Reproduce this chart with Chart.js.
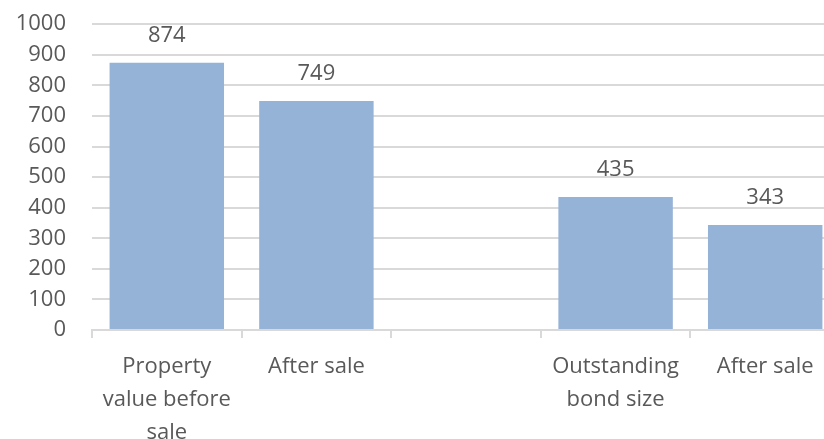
<!DOCTYPE html>
<html>
<head>
<meta charset="utf-8">
<script src="https://cdn.jsdelivr.net/npm/chart.js@4"></script>
<style>
  html, body { margin: 0; padding: 0; overflow: hidden; background: #fff; }
  #wrap { width: 840px; height: 454px; margin-top: -15px; }
</style>
</head>
<body>
<div id="wrap"><canvas id="chart"></canvas></div>
<script>
const categories = [
  ["Property", "value before", "sale"],
  ["After sale"],
  [""],
  ["Outstanding", "bond size"],
  ["After sale"],
];
const values = [874, 749, null, 435, 343];
const yTicks = [0, 100, 200, 300, 400, 500, 600, 700, 800, 900, 1000];

const textColor = "#595959";
const fontFamily = "'Open Sans', sans-serif";

// draws the value above each bar
const valueLabels = {
  id: "valueLabels",
  afterDatasetsDraw(chart) {
    const ctx = chart.ctx;
    const meta = chart.getDatasetMeta(0);
    ctx.save();
    ctx.fillStyle = textColor;
    ctx.font = "22px " + fontFamily;
    ctx.textAlign = "center";
    ctx.textBaseline = "middle";
    meta.data.forEach((bar, i) => {
      if (values[i] == null) return;
      ctx.fillText(String(values[i]), bar.x, bar.y - 27);
    });
    ctx.restore();
  },
};

new Chart(document.getElementById("chart"), {
  type: "bar",
  data: {
    labels: categories,
    datasets: [
      {
        data: values,
        backgroundColor: "#95B3D7",
        categoryPercentage: 1,
        barPercentage: 0.765,
      },
    ],
  },
  options: {
    responsive: true,
    maintainAspectRatio: false,
    animation: false,
    layout: { padding: { top: 8, right: 0, bottom: 0, left: 0 } },
    plugins: {
      legend: { display: false },
      tooltip: { enabled: false },
    },
    scales: {
      x: {
        offset: true,
        border: { color: "#d9d9d9", width: 2 },
        grid: {
          offset: true,
          drawOnChartArea: false,
          drawTicks: true,
          tickLength: 8,
          color: "#d9d9d9",
          lineWidth: 2,
        },
        ticks: {
          color: textColor,
          font: { family: fontFamily, size: 22, lineHeight: 1.5 },
          padding: 12,
          maxRotation: 0,
          autoSkip: false,
        },
        afterFit: (s) => { s.height = 109; },
      },
      y: {
        min: 0,
        max: 1000,
        border: { display: false },
        grid: { color: "#d9d9d9", lineWidth: 2, drawTicks: false },
        afterBuildTicks: (s) => { s.ticks = yTicks.map((v) => ({ value: v })); },
        ticks: {
          color: textColor,
          font: { family: fontFamily, size: 22 },
          padding: 26,
          autoSkip: false,
          callback: (v) => String(v),
        },
        afterFit: (s) => { s.width = 92; },
      },
    },
  },
  plugins: [valueLabels],
});
</script>
</body>
</html>
